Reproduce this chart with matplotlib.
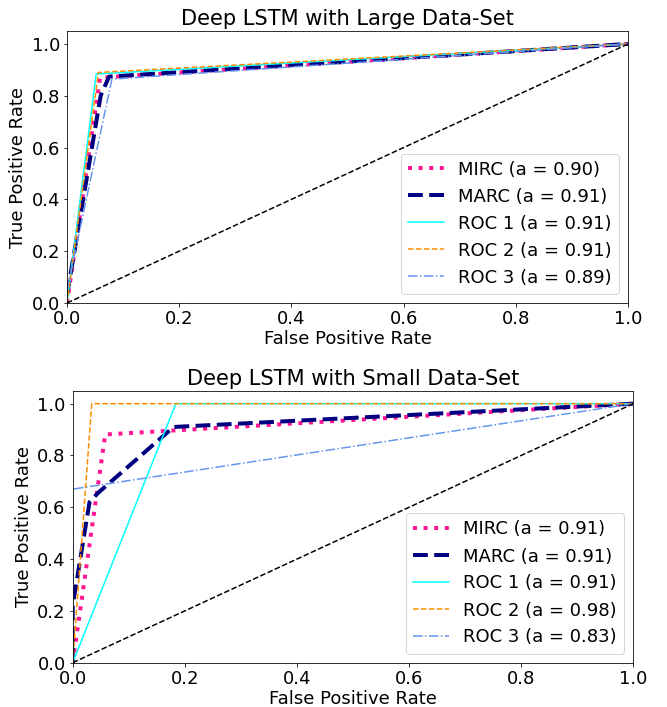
import numpy as np
import matplotlib
matplotlib.use('Agg')
import matplotlib.pyplot as plt

plt.rcParams['font.size'] = 18

# large data-set curves (fpr, tpr)
large_mirc_fpr = [0.0, 0.059, 1.0]
large_mirc_tpr = [0.0, 0.87, 1.0]
large_marc_fpr = [0.0, 0.06, 0.075, 1.0]
large_marc_tpr = [0.03, 0.80, 0.874, 1.0]
large_roc1_fpr = [0.0, 0.052, 1.0]
large_roc1_tpr = [0.0, 0.884, 1.0]
large_roc2_fpr = [0.0, 0.056, 1.0]
large_roc2_tpr = [0.0, 0.89, 1.0]
large_roc3_fpr = [0.0, 0.08, 1.0]
large_roc3_tpr = [0.05, 0.864, 1.0]
large_auc = [0.90, 0.91, 0.91, 0.91, 0.89]

# small data-set curves
small_mirc_fpr = [0.0, 0.058, 1.0]
small_mirc_tpr = [0.0, 0.881, 1.0]
small_marc_fpr = [0.0, 0.0, 0.03, 0.045, 0.18, 1.0]
small_marc_tpr = [0.0, 0.22, 0.62, 0.655, 0.91, 1.0]
small_roc1_fpr = [0.0, 0.184, 1.0]
small_roc1_tpr = [0.0, 1.0, 1.0]
small_roc2_fpr = [0.0, 0.034, 1.0]
small_roc2_tpr = [0.0, 1.0, 1.0]
small_roc3_fpr = [0.0, 0.0, 1.0]
small_roc3_tpr = [0.0, 0.67, 1.0]
small_auc = [0.91, 0.91, 0.91, 0.98, 0.83]

W, H = 667, 707
fig = plt.figure(figsize=(W/72., H/72.), dpi=72)
ax1 = fig.add_axes([67/W, 1-303/H, 561/W, 272/H])
ax2 = fig.add_axes([72.7/W, 1-662.7/H, 560.6/W, 272/H])


def draw(ax, curves, auc, title):
    (mf, mt), (af, at), (f1, t1), (f2, t2), (f3, t3) = curves
    ax.plot(mf, mt, color='deeppink', ls=':', lw=4,
            label='MIRC (a = %0.2f)' % auc[0])
    ax.plot(af, at, color='navy', ls='--', lw=4,
            label='MARC (a = %0.2f)' % auc[1])
    ax.plot(f1, t1, color='aqua', lw=1.5, label='ROC 1 (a = %0.2f)' % auc[2])
    ax.plot(f2, t2, color='darkorange', ls='--', lw=1.5,
            label='ROC 2 (a = %0.2f)' % auc[3])
    ax.plot(f3, t3, color='cornflowerblue', ls='-.', lw=1.5,
            label='ROC 3 (a = %0.2f)' % auc[4])
    ax.plot([0, 1], [0, 1], 'k--', lw=1.5)
    ax.set_xlim(0.0, 1.0)
    ax.set_ylim(0.0, 1.05)
    ax.set_xlabel('False Positive Rate', labelpad=2)
    ax.set_ylabel('True Positive Rate')
    ax.set_title(title, fontsize=21)
    ax.legend(loc='lower right')


draw(ax1, [(large_mirc_fpr, large_mirc_tpr), (large_marc_fpr, large_marc_tpr),
           (large_roc1_fpr, large_roc1_tpr), (large_roc2_fpr, large_roc2_tpr),
           (large_roc3_fpr, large_roc3_tpr)], large_auc,
     'Deep LSTM with Large Data-Set')
draw(ax2, [(small_mirc_fpr, small_mirc_tpr), (small_marc_fpr, small_marc_tpr),
           (small_roc1_fpr, small_roc1_tpr), (small_roc2_fpr, small_roc2_tpr),
           (small_roc3_fpr, small_roc3_tpr)], small_auc,
     'Deep LSTM with Small Data-Set')

fig.savefig('out.png', dpi=72)
